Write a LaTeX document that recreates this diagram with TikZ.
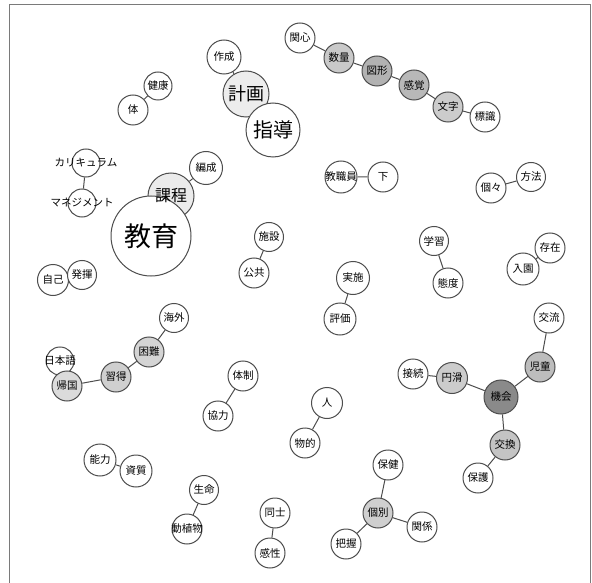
\documentclass[tikz,border=0pt]{standalone}
\usepackage{fontspec}
\setmainfont{Noto Sans CJK JP}
\usepackage{tikz}
\usetikzlibrary{positioning}
\usetikzlibrary{backgrounds}

\definecolor{linegray}{HTML}{4D4D4D}
\definecolor{framegray}{HTML}{7A7A7A}

\newcommand{\wordfont}{\fontsize{10.5}{12}\selectfont}
\newcommand{\kyouikufont}{\fontsize{27}{30}\selectfont}
\newcommand{\shidoufont}{\fontsize{20}{22}\selectfont}
\newcommand{\keikakufont}{\fontsize{18}{20}\selectfont}
\newcommand{\kateifont}{\fontsize{16}{18}\selectfont}

\tikzset{
  word/.style={circle, draw=linegray, line width=1pt, fill=white, inner sep=0pt, minimum size=#1},
  word/.default=30pt,
  link/.style={draw=linegray, line width=1pt},
  every label/.style={font=\wordfont, inner sep=1pt},
}

\begin{document}
\begin{tikzpicture}[x=1pt, y=-1pt, on grid]
\useasboundingbox (0,0) rectangle (592,583);
\draw[framegray, line width=1pt] (9.5,4.5) rectangle (590.5,600);

    % 指導・計画
    \node[word=34pt, label=center:作成] (sakusei) at (224,57) {};
    \node[word=46pt, fill=black!7, label={[font=\keikakufont]center:計画}, below right=37pt and 22pt of sakusei] (keikaku) {};
    \node[word=54pt, label={[font=\shidoufont]center:指導}, below right=36pt and 27pt of keikaku] (shidou) {};

    \node[word=28pt, label=center:健康] (kenkou) at (158,86) {};
    \node[word, label=center:体, below left=24pt and 25pt of kenkou] (tai) {};

    \node[word=28pt, label=center:カリキュラム] (kari) at (86,163) {};
    \node[word=28pt, label=center:マネジメント, below left=40pt and 4pt of kari] (mane) {};

    % 教育課程
    \node[word=33pt, label=center:編成] (hensei) at (206,168) {};
    \node[word=46pt, fill=black!8, below left=28pt and 35pt of hensei] (katei) {};
    \node[word=80pt, label={[font=\kyouikufont]center:教育}, below left=40pt and 20pt of katei] (kyouiku) {};

    % 数量・図形
    \node[word, label=center:関心] (kanshin) at (300,38) {};
    \node[word, fill=black!21, label=center:数量, below right=20pt and 39pt of kanshin] (suuryou) {};
    \node[word, fill=black!30, label=center:図形, below right=13pt and 38pt of suuryou] (zukei) {};
    \node[word, fill=black!28, label=center:感覚, below right=14pt and 37pt of zukei] (kankaku) {};
    \node[word, fill=black!20, label=center:文字, below right=22pt and 34pt of kankaku] (moji) {};
    \node[word, label=center:標識, below right=10pt and 37pt of moji] (hyoushiki) {};

    \node[word=32pt, label=center:教職員] (kyoushokuin) at (341,177) {};
    \node[word, label=center:下, right=42pt of kyoushokuin] (shita) {};

    \node[word=29pt, label=center:方法] (houhou) at (531,177) {};
    \node[word, label=center:個々, below left=11pt and 40pt of houhou] (koko) {};

    \node[word=31pt, label=center:自己] (jiko) at (53,280) {};
    \node[word=29pt, label=center:発揮, above right=5pt and 29pt of jiko] (hakki) {};

    \node[word=29pt, label=center:施設] (shisetsu) at (269,237) {};
    \node[word, label=center:公共, below left=36pt and 15pt of shisetsu] (koukyou) {};

    % 帰国・習得
    \node[word=29pt, label=center:海外] (kaigai) at (174,318) {};
    \node[word, fill=black!17, label=center:困難, below left=34pt and 25pt of kaigai] (konnan) {};
    \node[word, fill=black!19, label=center:習得, below left=25pt and 33pt of konnan] (shuutoku) {};
    \node[word=28pt, above left=16pt and 56pt of shuutoku] (nihongo) {};
    \node[word, fill=black!14, label=center:帰国, below left=9pt and 49pt of shuutoku] (kikoku) {};

    \node[word=29pt, label=center:学習] (gakushuu) at (434,241) {};
    \node[word, label=center:態度, below right=42pt and 14pt of gakushuu] (taido) {};

    \node[word, label=center:存在] (sonzai) at (550,248) {};
    \node[word=32pt, label=center:入園, below left=21pt and 27pt of sonzai] (nyuuen) {};

    \node[word=33pt, label=center:実施] (jisshi) at (353,278) {};
    \node[word=32pt, label=center:評価, below left=41pt and 13pt of jisshi] (hyouka) {};

    % 機会
    \node[word=34pt, fill=black!46, label=center:機会] (kikai) at (501,397) {};
    \node[word, fill=black!26, label=center:児童, above right=30pt and 39pt of kikai] (jidou) {};
    \node[word, label=center:交流, above right=49pt and 9pt of jidou] (kouryuu) {};
    \node[word=31pt, fill=black!20, label=center:円滑, above left=19pt and 49pt of kikai] (enkatsu) {};
    \node[word, label=center:接続, above left=4pt and 39pt of enkatsu] (setsuzoku) {};
    \node[word, fill=black!23, label=center:交換, below right=48pt and 4pt of kikai] (koukan) {};
    \node[word, label=center:保護, below left=33pt and 27pt of koukan] (hogo) {};

    \node[word=31pt, label=center:人] (hito) at (327,403) {};
    \node[word, label=center:物的, below left=40pt and 22pt of hito] (butteki) {};

    % 個別
    \node[word, fill=black!19, label=center:個別] (kobetsu) at (378,513) {};
    \node[word, label=center:保健, above right=48pt and 10pt of kobetsu] (hoken) {};
    \node[word, label=center:関係, below right=14pt and 44pt of kobetsu] (kankei) {};
    \node[word, label=center:把握, below left=31pt and 32pt of kobetsu] (haaku) {};

    \node[word, label=center:体制] (taisei) at (243,376) {};
    \node[word, label=center:協力, below left=40pt and 25pt of taisei] (kyouryoku) {};

    \node[word=32pt, label=center:能力] (nouryoku) at (100,460) {};
    \node[word=32pt, label=center:資質, below right=11pt and 36pt of nouryoku] (shishitsu) {};

    \node[word=29pt, label=center:生命] (seimei) at (204,490) {};
    \node[word, label=center:動植物, below left=39pt and 17pt of seimei] (doushokubutsu) {};

    \node[word, label=center:同士] (doushi) at (275,513) {};
    \node[word, label=center:感性, below left=40pt and 5pt of doushi] (kansei) {};

    % texts on top of overlapping circles
    \node[font=\kateifont] at (katei) {課程};
    \node[font=\wordfont] at (nihongo) {日本語};

    \begin{scope}[on background layer]
    \draw[link] (sakusei) -- (keikaku) (keikaku) -- (shidou) (kenkou) -- (tai) (kari) -- (mane);
    \draw[link] (hensei) -- (katei) (katei) -- (kyouiku);
    \draw[link] (kanshin) -- (suuryou) (suuryou) -- (zukei) (zukei) -- (kankaku) (kankaku) -- (moji) (moji) -- (hyoushiki);
    \draw[link] (kyoushokuin) -- (shita) (houhou) -- (koko) (jiko) -- (hakki) (shisetsu) -- (koukyou);
    \draw[link] (kaigai) -- (konnan) (konnan) -- (shuutoku) (shuutoku) -- (kikoku) (nihongo) -- (kikoku);
    \draw[link] (gakushuu) -- (taido) (sonzai) -- (nyuuen) (jisshi) -- (hyouka);
    \draw[link] (kouryuu) -- (jidou) (jidou) -- (kikai) (setsuzoku) -- (enkatsu) (enkatsu) -- (kikai) (kikai) -- (koukan) (koukan) -- (hogo);
    \draw[link] (hito) -- (butteki) (hoken) -- (kobetsu) (kobetsu) -- (kankei) (kobetsu) -- (haaku);
    \draw[link] (taisei) -- (kyouryoku) (nouryoku) -- (shishitsu) (seimei) -- (doushokubutsu) (doushi) -- (kansei);
    \end{scope}
\end{tikzpicture}
\end{document}
